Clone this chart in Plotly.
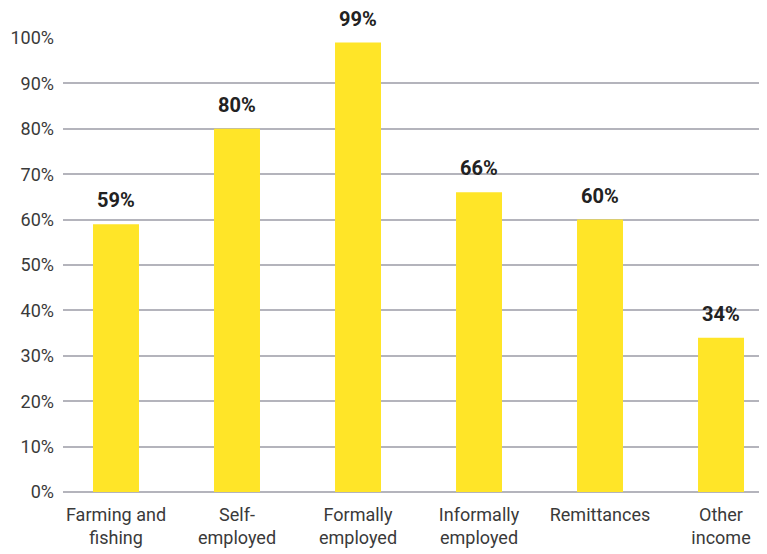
import plotly.graph_objects as go

categories = ["Farming and<br>fishing", "Self-<br>employed", "Formally<br>employed",
              "Informally<br>employed", "Remittances", "Other<br>income"]
values = [59, 80, 99, 66, 60, 34]
value_labels = ["59%", "80%", "99%", "66%", "60%", "34%"]
y_ticks = [0, 10, 20, 30, 40, 50, 60, 70, 80, 90, 100]
y_tick_labels = ["0%", "10%", "20%", "30%", "40%", "50%", "60%", "70%", "80%", "90%", "100%"]

FONT = "Roboto, Liberation Sans, sans-serif"

fig = go.Figure()
fig.add_trace(go.Bar(
    x=list(range(len(categories))), y=values,
    marker=dict(color="#FFE528", line=dict(width=0)),
    width=0.38, cliponaxis=False, hoverinfo="skip",
))

for i, (v, t) in enumerate(zip(values, value_labels)):
    fig.add_annotation(x=i, y=v, text="<b>%s</b>" % t, showarrow=False,
                       yanchor="bottom", yshift=11, borderpad=0,
                       font=dict(family=FONT, size=20, color="#222222"))

fig.update_layout(
    width=759, height=546,
    margin=dict(l=55, r=0, t=30, b=62, autoexpand=False),
    paper_bgcolor="white", plot_bgcolor="white",
    showlegend=False,
    font=dict(family=FONT, size=18, color="#3a3a3a"),
)
fig.update_xaxes(
    range=[-0.438, 5.38],
    tickmode="array", tickvals=list(range(len(categories))), ticktext=categories,
    showgrid=False, zeroline=False, showline=False, ticks="",
    ticklabelstandoff=10, automargin=False,
    tickfont=dict(family=FONT, size=18, color="#3a3a3a"),
)
fig.update_yaxes(
    range=[0, 100],
    tickmode="array", tickvals=y_ticks, ticktext=y_tick_labels,
    showgrid=True, gridcolor="#b4b4bc", gridwidth=1.5,
    zeroline=True, zerolinecolor="#b4b4bc", zerolinewidth=1.5,
    showline=False, ticks="", ticklabelstandoff=8, automargin=False,
    tickfont=dict(family=FONT, size=18, color="#3a3a3a"),
)

fig.write_html("out.html")
